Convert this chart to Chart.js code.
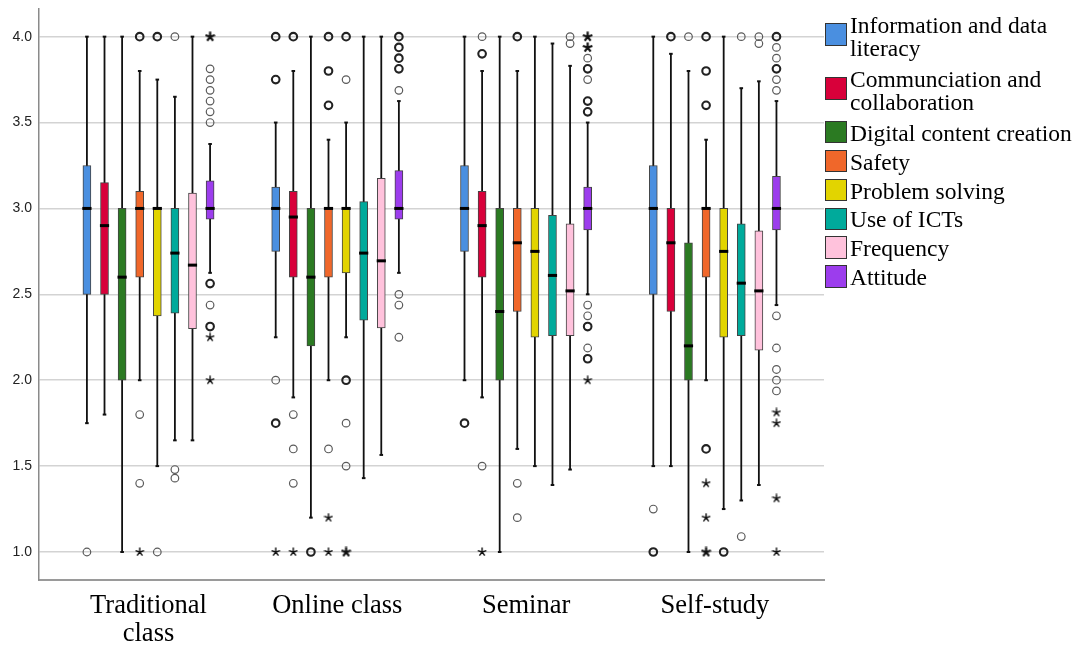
<!DOCTYPE html>
<html>
<head>
<meta charset="utf-8">
<script src="https://cdn.jsdelivr.net/npm/chart.js@4.4.1/dist/chart.umd.min.js"></script>
<style>
  html, body { margin: 0; padding: 0; background: #fff; }
  #wrap { position: relative; width: 1078px; height: 646px; }
  #legend {
    position: absolute; left: 825px; top: 14px;
    font-family: 'Liberation Serif', 'Times New Roman', serif;
    font-size: 23.5px; color: #000; white-space: nowrap;
  }
  #legend .item { display: flex; align-items: center; line-height: 22.8px; margin-bottom: 6.1px; }
  #legend .item.two { margin-bottom: 8.3px; }
  #legend .sw {
    box-sizing: border-box; width: 22px; height: 22.5px; flex: none;
    border: 1.3px solid #333; margin-right: 3px; position: relative; top: -1px;
  }
  #legend .item.two .sw { top: -2.4px; }
</style>
</head>
<body>
<div id="wrap">
  <canvas id="chart" width="1078" height="646"></canvas>
  <div id="legend"></div>
</div>
<script>
// Category and series names
const categories = [['Traditional', 'class'], 'Online class', 'Seminar', 'Self-study'];
const seriesNames = [
  ['Information and data', 'literacy'],
  ['Communciation and', 'collaboration'],
  ['Digital content creation'],
  ['Safety'],
  ['Problem solving'],
  ['Use of ICTs'],
  ['Frequency'],
  ['Attitude']
];
const yTicks = [1.0, 1.5, 2.0, 2.5, 3.0, 3.5, 4.0];

// Box statistics per category: [lower whisker, Q1, median, Q3, upper whisker]
const infoStats     = [[1.75, 2.5, 3.0, 3.25, 4.0], [2.25, 2.75, 3.0, 3.125, 3.5], [2.0, 2.75, 3.0, 3.25, 4.0], [1.5, 2.5, 3.0, 3.25, 4.0]];
const commStats     = [[1.8, 2.5, 2.9, 3.15, 4.0], [1.9, 2.6, 2.95, 3.1, 3.8], [1.9, 2.6, 2.9, 3.1, 3.8], [1.5, 2.4, 2.8, 3.0, 3.9]];
const digitalStats  = [[1.0, 2.0, 2.6, 3.0, 4.0], [1.2, 2.2, 2.6, 3.0, 4.0], [1.0, 2.0, 2.4, 3.0, 4.0], [1.0, 2.0, 2.2, 2.8, 3.8]];
const safetyStats   = [[2.0, 2.6, 3.0, 3.1, 3.8], [2.0, 2.6, 3.0, 3.0, 3.4], [1.6, 2.4, 2.8, 3.0, 3.8], [2.0, 2.6, 3.0, 3.0, 3.4]];
const problemStats  = [[1.5, 2.375, 3.0, 3.0, 3.75], [2.25, 2.625, 3.0, 3.0, 3.5], [1.5, 2.25, 2.75, 3.0, 4.0], [1.25, 2.25, 2.75, 3.0, 4.0]];
const ictStats      = [[1.65, 2.39, 2.74, 3.0, 3.65], [1.43, 2.35, 2.74, 3.04, 4.0], [1.39, 2.26, 2.61, 2.96, 3.96], [1.3, 2.26, 2.565, 2.91, 3.7]];
const freqStats     = [[1.65, 2.3, 2.67, 3.09, 4.0], [1.565, 2.305, 2.695, 3.175, 4.0], [1.48, 2.26, 2.52, 2.91, 3.83], [1.39, 2.175, 2.52, 2.87, 3.74]];
const attitudeStats = [[2.625, 2.9375, 3.0, 3.16, 3.375], [2.625, 2.9375, 3.0, 3.22, 3.625], [2.5, 2.875, 3.0, 3.125, 3.5], [2.4375, 2.875, 3.0, 3.1875, 3.625]];

// Outliers (circles) per category; repeated values are coincident cases
const infoOutliers     = [[1.0], [4.0, 4.0, 3.75, 3.75, 2.0, 1.75, 1.75], [1.75, 1.75], [1.25, 1.0, 1.0]];
const commOutliers     = [[], [4.0, 4.0, 1.8, 1.6, 1.4], [4.0, 3.9, 3.9, 1.5], [4.0, 4.0]];
const digitalOutliers  = [[], [1.0, 1.0], [], [4.0]];
const safetyOutliers   = [[4.0, 4.0, 1.8, 1.4], [4.0, 4.0, 3.8, 3.8, 3.6, 3.6, 1.6], [4.0, 4.0, 1.4, 1.2], [4.0, 4.0, 3.8, 3.8, 3.6, 3.6, 1.6, 1.6]];
const problemOutliers  = [[4.0, 4.0, 1.0], [4.0, 4.0, 3.75, 2.0, 2.0, 1.75, 1.5], [], [1.0, 1.0]];
const ictOutliers      = [[4.0, 1.48, 1.43], [], [], [4.0, 1.09]];
const freqOutliers     = [[], [], [4.0, 3.96], [4.0, 3.96]];
const attitudeOutliers = [
  [3.8125, 3.75, 3.6875, 3.625, 3.5625, 3.5, 2.5625, 2.5625, 2.4375, 2.3125, 2.3125],
  [4.0, 4.0, 3.9375, 3.9375, 3.875, 3.875, 3.8125, 3.8125, 3.6875, 2.5, 2.4375, 2.25],
  [3.875, 3.8125, 3.8125, 3.75, 3.625, 3.625, 3.5625, 3.5625, 2.4375, 2.375, 2.3125, 2.3125, 2.1875, 2.125, 2.125],
  [4.0, 4.0, 3.9375, 3.875, 3.8125, 3.8125, 3.75, 3.6875, 2.375, 2.1875, 2.0625, 2.0, 1.9375]
];

// Extreme values (stars) per category
const infoExtremes     = [[], [1.0], [], []];
const commExtremes     = [[], [1.0], [1.0], []];
const digitalExtremes  = [[], [], [], []];
const safetyExtremes   = [[1.0], [1.2, 1.0], [], [1.4, 1.2, 1.0, 1.0]];
const problemExtremes  = [[], [1.0, 1.0], [], []];
const ictExtremes      = [[], [], [], []];
const freqExtremes     = [[], [], [], []];
const attitudeExtremes = [[4.0, 4.0, 2.25, 2.0], [], [4.0, 4.0, 3.9375, 3.9375, 2.0], [1.8125, 1.75, 1.3125, 1.0]];

const seriesColors = ['#4a8fe0', '#d8003a', '#2b7a22', '#f0672a', '#e2d400', '#00aa9b', '#ffc2dc', '#9c3ded'];

const statsBySeries    = [infoStats, commStats, digitalStats, safetyStats, problemStats, ictStats, freqStats, attitudeStats];
const outliersBySeries = [infoOutliers, commOutliers, digitalOutliers, safetyOutliers, problemOutliers, ictOutliers, freqOutliers, attitudeOutliers];
const extremesBySeries = [infoExtremes, commExtremes, digitalExtremes, safetyExtremes, problemExtremes, ictExtremes, freqExtremes, attitudeExtremes];

// Horizontal slot of each series inside a category group
const SLOT = 0.0932;
const slotX = (cat, s) => cat + (s - 3.5) * SLOT;

// Collapse coincident values into one point carrying the count
function tallyPoints(perCategory, s) {
  const pts = [];
  perCategory.forEach((vals, c) => {
    const counts = new Map();
    vals.forEach(v => counts.set(v, (counts.get(v) || 0) + 1));
    counts.forEach((n, v) => pts.push({ x: slotX(c, s), y: v, n }));
  });
  return pts;
}

// Five-spoke asterisk marker for extreme values
function asterisk(lineWidth, size) {
  const c = document.createElement('canvas');
  c.width = c.height = size;
  const g = c.getContext('2d');
  const m = size / 2, r = size / 2 - 0.5;
  g.strokeStyle = '#111';
  g.lineWidth = lineWidth;
  g.beginPath();
  for (let k = 0; k < 5; k++) {
    const a = -Math.PI / 2 + k * 2 * Math.PI / 5;
    g.moveTo(m, m);
    g.lineTo(m + r * Math.cos(a), m + r * Math.sin(a));
  }
  g.stroke();
  return c;
}
const starThin = asterisk(1.4, 10);
const starBold = asterisk(2.2, 11);

const datasets = [];
statsBySeries.forEach((stats, s) => {
  const whiskers = [];
  const caps = [];
  stats.forEach((d, c) => {
    const x = slotX(c, s);
    whiskers.push({ x, y: d[0] }, { x, y: d[4] }, { x, y: null });
    caps.push({ x, y: d[0] }, { x, y: d[4] });
  });
  datasets.push({
    type: 'line', data: whiskers, borderColor: '#111', borderWidth: 1.8,
    pointRadius: 0, spanGaps: false, order: 6
  });
  datasets.push({
    type: 'scatter', data: caps, pointStyle: 'line', pointRadius: 1.8,
    pointBorderColor: '#111', pointBorderWidth: 2, order: 6
  });
  datasets.push({
    type: 'bar', label: seriesNames[s].join(' '),
    data: stats.map((d, c) => ({ x: slotX(c, s), y: [d[1], d[3]] })),
    backgroundColor: seriesColors[s], borderColor: '#444', borderWidth: 1,
    borderSkipped: false, barThickness: 8, grouped: false, order: 5
  });
  datasets.push({
    type: 'scatter', data: stats.map((d, c) => ({ x: slotX(c, s), y: d[2] })),
    pointStyle: 'line', pointRadius: 4.6, pointBorderColor: '#000', pointBorderWidth: 3, order: 4
  });
  datasets.push({
    type: 'scatter', data: tallyPoints(outliersBySeries[s], s),
    pointStyle: 'circle', pointRadius: 3.8, pointBackgroundColor: 'rgba(255,255,255,0)',
    pointBorderColor: ctx => (ctx.raw && ctx.raw.n > 1 ? '#222' : '#5a5a5a'),
    pointBorderWidth: ctx => (ctx.raw && ctx.raw.n > 1 ? 2.1 : 1.2),
    order: 1
  });
  datasets.push({
    type: 'scatter', data: tallyPoints(extremesBySeries[s], s),
    pointStyle: ctx => (ctx.raw && ctx.raw.n > 1 ? starBold : starThin),
    pointRadius: 4,
    order: 1
  });
});

new Chart(document.getElementById('chart'), {
  type: 'bar',
  data: { datasets },
  options: {
    responsive: false,
    animation: false,
    devicePixelRatio: 1,
    layout: { padding: { top: 9, right: 254, left: 0, bottom: 0 } },
    plugins: { legend: { display: false }, tooltip: { enabled: false } },
    events: [],
    scales: {
      x: {
        type: 'linear', min: -0.58, max: 3.578, offset: false, bounds: 'data',
        afterBuildTicks: a => { a.ticks = categories.map((_, i) => ({ value: i })); },
        afterFit: a => { a.height = 66; a.paddingLeft = 0; a.paddingRight = 0; },
        ticks: {
          callback: v => categories[v],
          font: { family: "'Liberation Serif', 'Times New Roman', serif", size: 26.5, lineHeight: 1.05 },
          color: '#000', padding: 12, maxRotation: 0, minRotation: 0, autoSkip: false
        },
        grid: { display: false, drawTicks: false, offset: false },
        border: { color: '#9a9a9a', width: 2 }
      },
      y: {
        min: 0.837, max: 4.161,
        afterBuildTicks: a => { a.ticks = yTicks.map(v => ({ value: v })); },
        afterFit: a => { a.width = 39; a.paddingTop = 0; a.paddingBottom = 0; },
        ticks: {
          callback: v => Number(v).toFixed(1),
          font: { family: "'Liberation Sans', Arial, sans-serif", size: 14 },
          color: '#222', padding: 7
        },
        grid: { color: '#d3d3d3', lineWidth: 1.5, drawTicks: false },
        border: { color: '#8a8a8a', width: 1.5 }
      }
    }
  }
});

// Legend
const legendEl = document.getElementById('legend');
seriesNames.forEach((lines, s) => {
  const item = document.createElement('div');
  item.className = 'item' + (lines.length > 1 ? ' two' : '');
  const sw = document.createElement('span');
  sw.className = 'sw';
  sw.style.background = seriesColors[s];
  const txt = document.createElement('span');
  lines.forEach((t, i) => {
    if (i) txt.appendChild(document.createElement('br'));
    txt.appendChild(document.createTextNode(t));
  });
  item.appendChild(sw);
  item.appendChild(txt);
  legendEl.appendChild(item);
});
</script>
</body>
</html>
